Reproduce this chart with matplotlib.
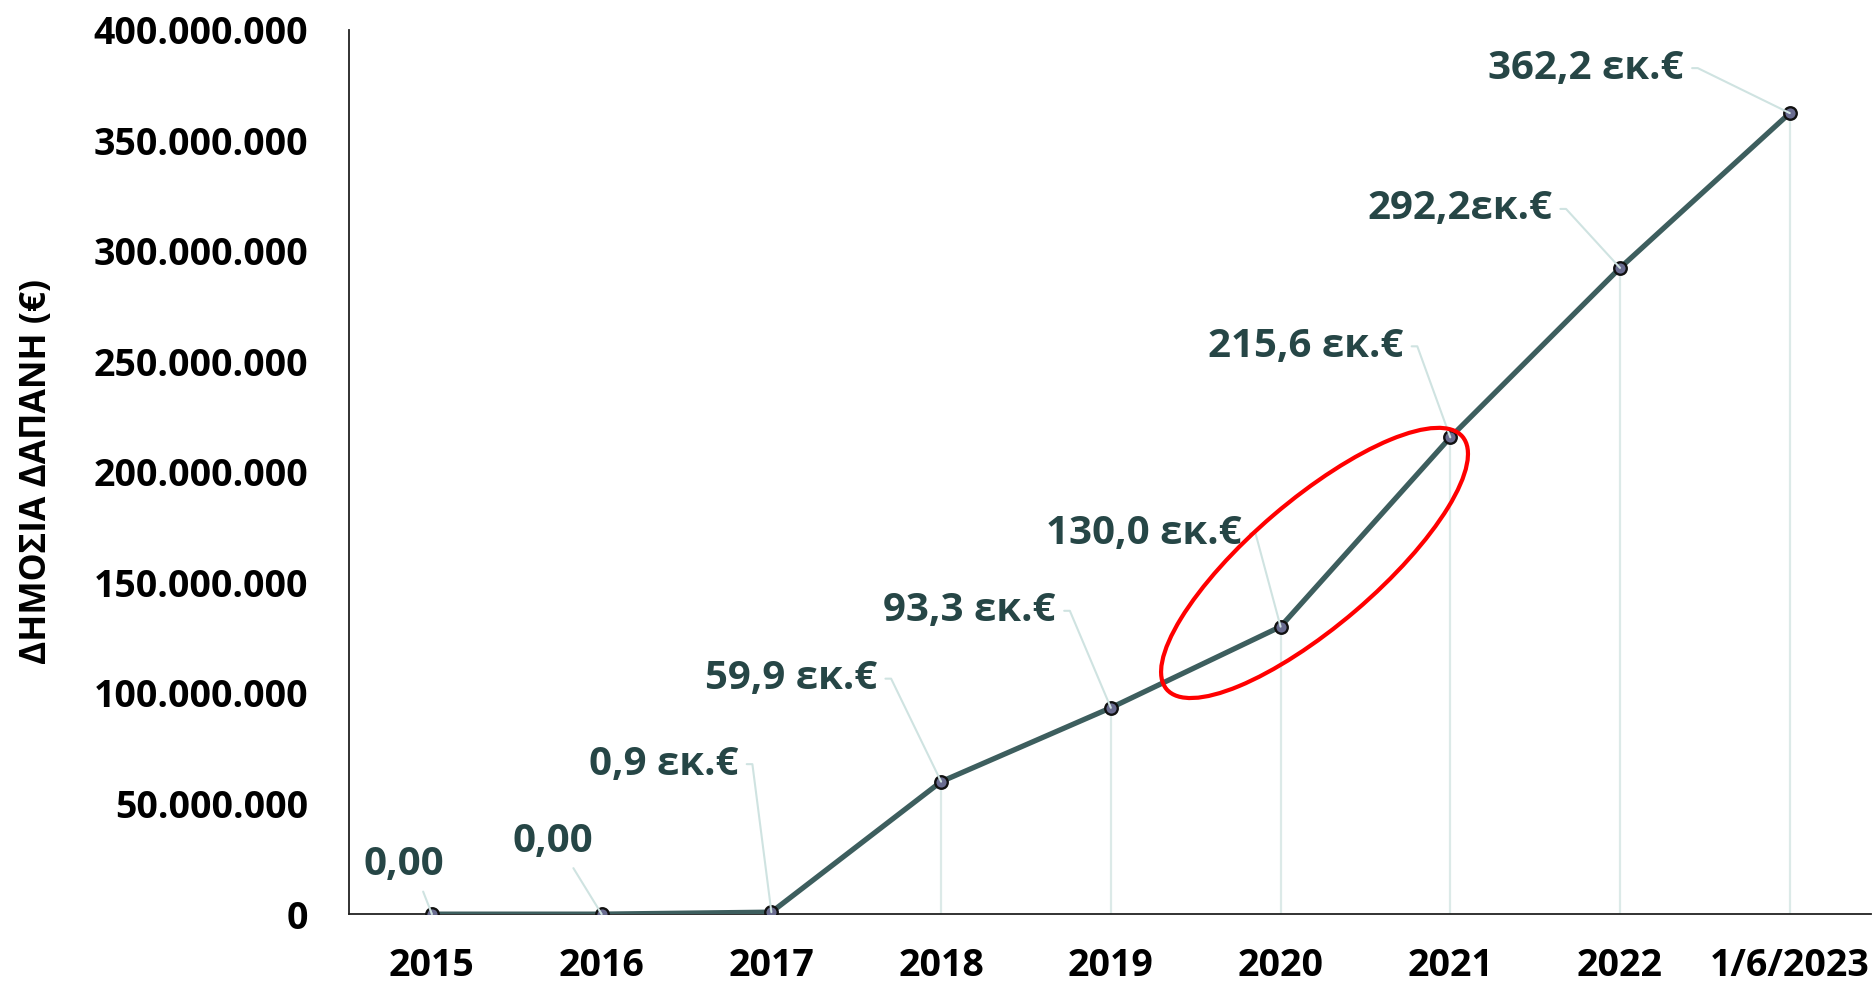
import math

import matplotlib

matplotlib.use("Agg")

import matplotlib.pyplot as plt
import matplotlib.transforms as mtransforms
from matplotlib.patches import Ellipse
from matplotlib.ticker import FuncFormatter

# data
years = ["2015", "2016", "2017", "2018", "2019", "2020", "2021", "2022", "1/6/2023"]
spend = [0, 0, 0.9e6, 59.9e6, 93.3e6, 130.0e6, 215.6e6, 292.2e6, 362.2e6]
labels = ["0,00", "0,00", "0,9 εκ.€", "59,9 εκ.€", "93,3 εκ.€", "130,0 εκ.€",
          "215,6 εκ.€", "292,2εκ.€", "362,2 εκ.€"]

LINE = "#3d5e5e"
TEXT = "#264646"
LEADER = "#cfe3e1"
DROP = "#dceae8"

DPI = 100
PX = 72.0 / DPI  # pixel -> point

fig = plt.figure(figsize=(18.75, 9.84), dpi=DPI)
ax = fig.add_axes([0.186, 0.071, 0.812, 0.899])

x = list(range(len(years)))

# light drop lines from each point to the axis
for xi, yi in zip(x[2:], spend[2:]):
    ax.plot([xi, xi], [0, yi], color=DROP, lw=1.6, zorder=1)

ax.plot(x, spend, color=LINE, lw=3.8, zorder=3, solid_capstyle="round")
ax.plot(x, spend, ls="none", marker="o", ms=9, mfc="#6a6c90",
        mec="#111111", mew=1.7, zorder=4)

# label layout: knee offset of the leader (full px, relative to point)
knees = [None, None, (-19, 148), (-50, 103), (-41, 97), (-25, 93),
         (-33, 91), (-54, 59), (-92, 45)]
straight = {0: (-28, 50), 1: (-49, 73)}
lab_font = dict(family="Open Sans", weight="bold", size=29, color=TEXT)

for i, (xi, yi, lab) in enumerate(zip(x, spend, labels)):
    if i in straight:
        dx, dy = straight[i]
        ax.annotate(lab, xy=(xi, yi), xytext=(dx * PX, dy * PX),
                    textcoords="offset points", ha="center", va="center",
                    arrowprops=dict(arrowstyle="-", color=LEADER, lw=1.5,
                                    relpos=(0.7, 0.0), shrinkA=4, shrinkB=0),
                    zorder=5, **lab_font)
        continue
    kx, ky = knees[i]
    ang = math.degrees(math.atan2(ky, kx))
    ax.annotate(lab, xy=(xi, yi), xytext=((kx - 14) * PX, ky * PX),
                textcoords="offset points", ha="right", va="center",
                arrowprops=dict(arrowstyle="-", color=LEADER, lw=1.5,
                                relpos=(1.0, 0.5), shrinkA=4, shrinkB=0,
                                connectionstyle=f"angle,angleA=0,angleB={ang},rad=0"),
                zorder=5, **lab_font)

# red highlight ellipse around the 2020-2021 segment
ell_trans = (mtransforms.Affine2D().scale(DPI / 72.0)
             + mtransforms.ScaledTranslation(5.20, 158.8e6, ax.transData))
ax.add_patch(Ellipse((0, 0), width=389 * PX, height=126 * PX, angle=40.5,
                     fill=False, edgecolor="#ff0000", lw=3.0,
                     transform=ell_trans, zorder=6))

ax.set_xlim(-0.49, 8.48)
ax.set_ylim(0, 400e6)
ax.set_xticks(x)
ax.set_xticklabels(years)
ax.set_yticks(range(0, 400_000_001, 50_000_000))
ax.yaxis.set_major_formatter(FuncFormatter(lambda v, p: f"{int(v):,}".replace(",", ".")))

for sp in ["top", "right"]:
    ax.spines[sp].set_visible(False)
ax.spines["left"].set_color("#222222")
ax.spines["bottom"].set_color("#222222")
ax.spines["left"].set_linewidth(1.3)
ax.spines["bottom"].set_linewidth(1.3)

ax.tick_params(length=0)
ax.tick_params(axis="y", pad=29)
ax.tick_params(axis="x", pad=24)
for t in ax.get_xticklabels() + ax.get_yticklabels():
    t.set_fontfamily("Open Sans")
    t.set_fontweight("bold")
    t.set_fontsize(27)

ax.set_ylabel("ΔΗΜΟΣΙΑ ΔΑΠΑΝΗ (€)", family="Open Sans", weight="bold", size=25.5)
ax.yaxis.set_label_coords(-0.193, 0.5)

plt.savefig("out.png", dpi=DPI)
plt.close()
